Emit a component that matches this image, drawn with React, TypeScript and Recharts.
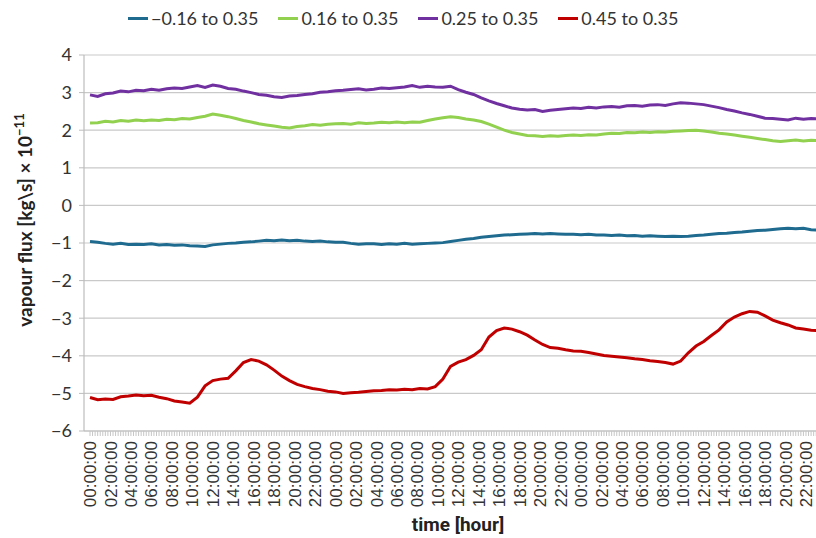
import { LineChart, Line, XAxis, YAxis, CartesianGrid } from 'recharts';

// Sampling times, in hours since the start of the record (every 45 min, three days)
const HOURS = Array.from({ length: 96 }, (_, i) => i * 0.75);

const SERIES_NAMES = ['−0.16 to 0.35', '0.16 to 0.35', '0.25 to 0.35', '0.45 to 0.35'];
const SERIES_COLORS = ['#1F6A8F', '#92D050', '#7030A0', '#C00000'];

const FLUX_M016 = [
  -0.96, -0.98, -1.01, -1.03, -1.01, -1.04, -1.03, -1.04, -1.02, -1.05, -1.04, -1.06, -1.05, -1.07, -1.08, -1.09,
  -1.05, -1.03, -1.01, -1.0, -0.98, -0.97, -0.95, -0.93, -0.94, -0.92, -0.94, -0.93, -0.95, -0.96, -0.95, -0.97,
  -0.98, -0.98, -1.01, -1.03, -1.02, -1.02, -1.04, -1.02, -1.03, -1.01, -1.03, -1.02, -1.01, -1.0, -0.99, -0.96,
  -0.93, -0.9, -0.88, -0.85, -0.83, -0.81, -0.79, -0.78, -0.77, -0.76, -0.75, -0.76, -0.75, -0.76, -0.77, -0.77,
  -0.78, -0.77, -0.79, -0.79, -0.8, -0.79, -0.81, -0.8, -0.82, -0.81, -0.82, -0.83, -0.82, -0.83, -0.82, -0.8,
  -0.79, -0.77, -0.75, -0.74, -0.72, -0.71, -0.69, -0.67, -0.66, -0.64, -0.62, -0.61, -0.62, -0.61, -0.65, -0.66,
];

const FLUX_016 = [
  2.19, 2.2, 2.24, 2.22, 2.26, 2.24, 2.27, 2.25, 2.27, 2.26, 2.29, 2.28, 2.31, 2.3, 2.34, 2.37,
  2.43, 2.4, 2.36, 2.31, 2.26, 2.22, 2.17, 2.14, 2.11, 2.08, 2.06, 2.1, 2.12, 2.15, 2.13, 2.16,
  2.17, 2.18, 2.16, 2.2, 2.18, 2.19, 2.21, 2.2, 2.22, 2.2, 2.22, 2.21, 2.26, 2.3, 2.33, 2.36,
  2.34, 2.3, 2.27, 2.23, 2.16, 2.08, 2.0, 1.94, 1.9, 1.86, 1.85, 1.83, 1.85, 1.84, 1.86, 1.87,
  1.86, 1.88, 1.87, 1.9, 1.92, 1.91, 1.94, 1.93, 1.95, 1.94, 1.96, 1.95, 1.97, 1.98, 1.99, 2.0,
  1.98, 1.95, 1.92, 1.9, 1.87, 1.84, 1.81, 1.78, 1.75, 1.72, 1.7, 1.72, 1.74, 1.71, 1.73, 1.72,
];

const FLUX_025 = [
  2.94, 2.9, 2.97, 2.99, 3.04, 3.02, 3.06, 3.05, 3.09, 3.06, 3.1, 3.12, 3.11, 3.15, 3.19, 3.14,
  3.2, 3.17, 3.11, 3.09, 3.04, 3.0, 2.95, 2.93, 2.89, 2.87, 2.91, 2.92, 2.95, 2.97, 3.01, 3.02,
  3.05, 3.06, 3.08, 3.1, 3.07, 3.09, 3.12, 3.11, 3.13, 3.15, 3.19, 3.14, 3.17, 3.15, 3.14, 3.17,
  3.08, 3.01, 2.95, 2.86, 2.78, 2.71, 2.65, 2.59, 2.56, 2.54, 2.55, 2.5, 2.53, 2.55, 2.57, 2.59,
  2.58, 2.61, 2.59, 2.62, 2.63, 2.61, 2.65, 2.66, 2.64, 2.67, 2.68, 2.66, 2.7, 2.73, 2.72, 2.7,
  2.68, 2.64, 2.6, 2.55, 2.51, 2.46, 2.42, 2.37, 2.32, 2.31, 2.29, 2.27, 2.32, 2.29, 2.31, 2.3,
];

const FLUX_045 = [
  -5.11, -5.17, -5.15, -5.16, -5.09, -5.07, -5.04, -5.06, -5.05, -5.1, -5.14, -5.2, -5.23, -5.26, -5.1, -4.8,
  -4.66, -4.62, -4.6, -4.4, -4.18, -4.1, -4.14, -4.24, -4.38, -4.54, -4.66, -4.76, -4.82, -4.87, -4.9, -4.94,
  -4.96, -5.0, -4.98, -4.97, -4.95, -4.93, -4.92, -4.9, -4.91, -4.89, -4.9, -4.87, -4.88, -4.82, -4.62, -4.28,
  -4.17, -4.1, -3.99, -3.84, -3.5, -3.33, -3.26, -3.29, -3.36, -3.45, -3.58, -3.7, -3.78, -3.8, -3.84, -3.87,
  -3.88, -3.91, -3.95, -3.99, -4.01, -4.03, -4.05, -4.08, -4.1, -4.13, -4.15, -4.18, -4.22, -4.14, -3.92, -3.74,
  -3.62, -3.46, -3.31, -3.1, -2.97, -2.88, -2.82, -2.84, -2.94, -3.05, -3.12, -3.18, -3.26, -3.29, -3.32, -3.33,
];

const Y_TICKS = [-6, -5, -4, -3, -2, -1, 0, 1, 2, 3, 4];

// Labelled hours and their clock text
const LABEL_HOURS = [
  0, 2, 4, 6, 8, 10, 12, 14, 16, 18, 20, 22, 24, 26, 28, 30, 32, 34,
  36, 38, 40, 42, 44, 46, 48, 50, 52, 54, 56, 58, 60, 62, 64, 66, 68, 70,
];
const TIME_LABELS = [
  '00:00:00', '02:00:00', '04:00:00', '06:00:00', '08:00:00', '10:00:00',
  '12:00:00', '14:00:00', '16:00:00', '18:00:00', '20:00:00', '22:00:00',
  '00:00:00', '02:00:00', '04:00:00', '06:00:00', '08:00:00', '10:00:00',
  '12:00:00', '14:00:00', '16:00:00', '18:00:00', '20:00:00', '22:00:00',
  '00:00:00', '02:00:00', '04:00:00', '06:00:00', '08:00:00', '10:00:00',
  '12:00:00', '14:00:00', '16:00:00', '18:00:00', '20:00:00', '22:00:00',
];

// minor tick marks every 15 minutes
const MINOR_TICKS = Array.from({ length: 285 }, (_, i) => i / 4);

const SERIES = [FLUX_M016, FLUX_016, FLUX_025, FLUX_045];
const data = HOURS.map((h, i) => ({
  hour: h,
  s0: FLUX_M016[i],
  s1: FLUX_016[i],
  s2: FLUX_025[i],
  s3: FLUX_045[i],
}));

const CALIBRI = 'Lato, "Open Sans", sans-serif';

function TimeTick({ x, y, payload }: any) {
  const idx = LABEL_HOURS.findIndex((h) => Math.abs(h - payload.value) < 1e-6);
  if (idx < 0) return null;
  return (
    <g transform={`translate(${x},${y})`}>
      <text
        transform="rotate(-90)"
        x={-3}
        y={0}
        dy="0.36em"
        textAnchor="end"
        fontFamily="'Liberation Sans', Arial, sans-serif"
        fontSize={17}
        fill="#333"
      >
        {TIME_LABELS[idx]}
      </text>
    </g>
  );
}

function YTitle() {
  return (
    <text
      transform="translate(32,220) rotate(-90)"
      textAnchor="middle"
      fontFamily={CALIBRI}
      fontWeight={700}
      fontSize={19}
      fill="#222"
    >
      vapour flux [kg\s] × 10
      <tspan dy={-8} fontSize={13}>−11</tspan>
    </text>
  );
}

function XTitle() {
  return (
    <text
      x={458}
      y={531}
      textAnchor="middle"
      fontFamily="Roboto, 'Liberation Sans', sans-serif"
      fontWeight={700}
      fontSize={19}
      fill="#222"
    >
      time [hour]
    </text>
  );
}

function LegendRow() {
  return (
    <div
      style={{
        position: 'absolute',
        top: 7,
        left: 128,
        display: 'flex',
        gap: 20,
        fontFamily: CALIBRI,
        fontSize: 18,
        color: '#333',
        lineHeight: '22px',
      }}
    >
      {SERIES_NAMES.map((name, i) => (
        <div key={name} style={{ display: 'flex', alignItems: 'center' }}>
          <span
            style={{ width: 20, height: 3, background: SERIES_COLORS[i], marginRight: 3, display: 'inline-block' }}
          />
          <span>{name}</span>
        </div>
      ))}
    </div>
  );
}

export default function App() {
  return (
    <div style={{ position: 'relative', width: 816, height: 538, overflow: 'hidden', background: '#fff' }}>
      <style>{'body{margin:0}'}</style>
      <LegendRow />
      <LineChart width={816} height={538} data={data} margin={{ top: 55, right: 0, bottom: 7, left: 0 }}>
        <CartesianGrid vertical={false} stroke="#c9c9c9" strokeWidth={1.2} />
        <XAxis
          type="number"
          dataKey="hour"
          domain={[-0.587, 70.98]}
          allowDataOverflow
          ticks={MINOR_TICKS}
          interval={0}
          tick={<TimeTick />}
          tickSize={5}
          tickLine={{ stroke: '#c6c6c6' }}
          axisLine={{ stroke: '#bdbdbd', strokeWidth: 1.2 }}
          height={100}
          label={<XTitle />}
        />
        <YAxis
          type="number"
          domain={[-6, 4]}
          ticks={Y_TICKS}
          interval={0}
          width={84}
          tickSize={5}
          tickMargin={7}
          tickLine={{ stroke: '#bdbdbd' }}
          axisLine={{ stroke: '#bdbdbd', strokeWidth: 1.2 }}
          tick={{ fontFamily: CALIBRI, fontSize: 18, fill: '#333' }}
          tickFormatter={(v: number) => (v < 0 ? `−${-v}` : `${v}`)}
          label={<YTitle />}
        />
        {SERIES.map((_, i) => (
          <Line
            key={i}
            type="linear"
            dataKey={`s${i}`}
            name={SERIES_NAMES[i]}
            stroke={SERIES_COLORS[i]}
            strokeWidth={3}
            dot={false}
            activeDot={false}
            isAnimationActive={false}
          />
        ))}
      </LineChart>
    </div>
  );
}
